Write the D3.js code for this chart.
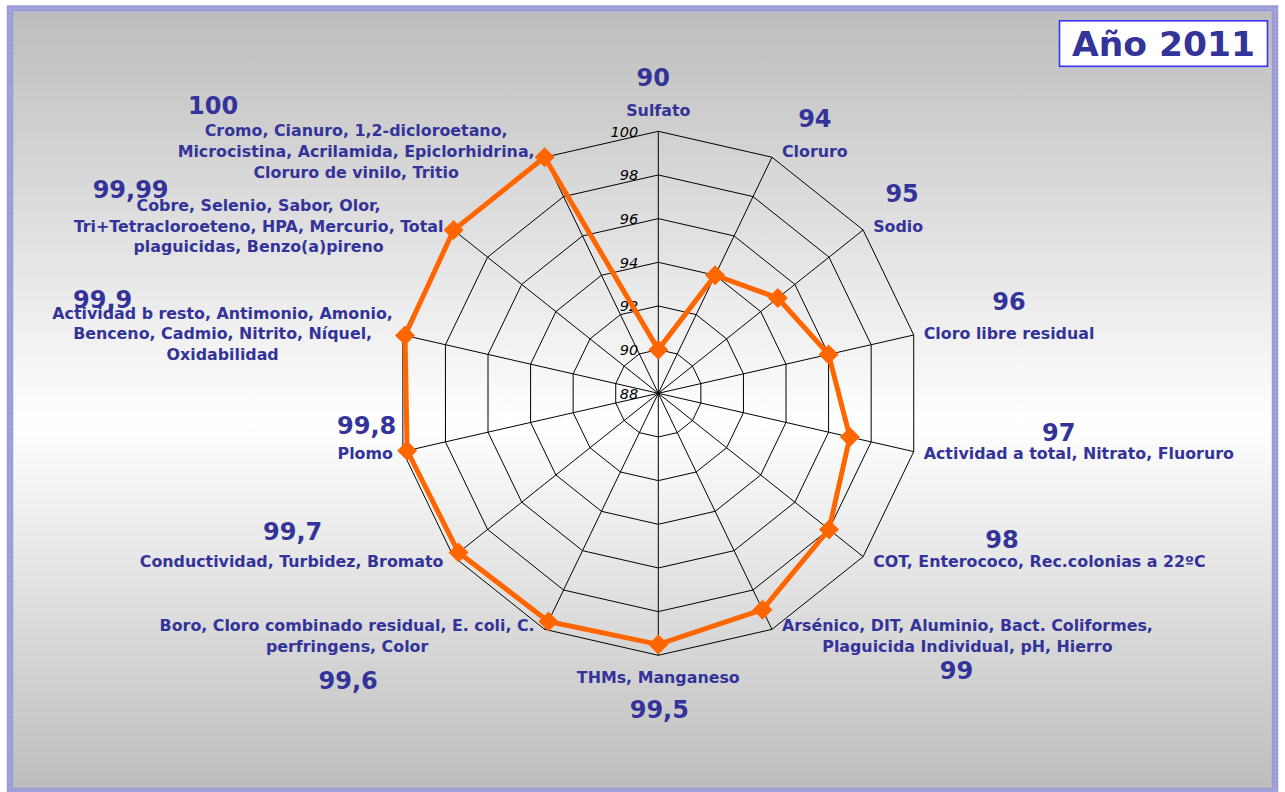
<!DOCTYPE html>
<html>
<head>
<meta charset="utf-8">
<style>
  body { margin: 0; background: #fff; }
  text { font-family: "DejaVu Sans", Verdana, sans-serif; }
</style>
</head>
<body>
<svg width="1285" height="792"></svg>
<script src="https://d3js.org/d3.v7.min.js"></script>
<script>
// one entry per radar axis, clockwise from the top; each entry = lines of the label
var categories = [
  ["Sulfato"],
  ["Cloruro"],
  ["Sodio"],
  ["Cloro libre residual"],
  ["Actividad a total, Nitrato, Fluoruro"],
  ["COT, Enterococo, Rec.colonias a 22ºC"],
  ["Arsénico, DIT, Aluminio, Bact. Coliformes,", "Plaguicida Individual, pH, Hierro"],
  ["THMs, Manganeso"],
  ["Boro, Cloro combinado residual, E. coli, C.", "perfringens, Color"],
  ["Conductividad, Turbidez, Bromato"],
  ["Plomo"],
  ["Actividad b resto, Antimonio, Amonio,", "Benceno, Cadmio, Nitrito, Níquel,", "Oxidabilidad"],
  ["Cobre, Selenio, Sabor, Olor,", "Tri+Tetracloroeteno, HPA, Mercurio, Total", "plaguicidas, Benzo(a)pireno"],
  ["Cromo, Cianuro, 1,2-dicloroetano,", "Microcistina, Acrilamida, Epiclorhidrina,", "Cloruro de vinilo, Tritio"]
];
var values = [90, 94, 95, 96, 97, 98, 99, 99.5, 99.6, 99.7, 99.8, 99.9, 99.99, 100];
var valueLabels = ["90", "94", "95", "96", "97", "98", "99", "99,5", "99,6", "99,7", "99,8", "99,9", "99,99", "100"];
var ticks = [88, 90, 92, 94, 96, 98, 100];
var title = "Año 2011";

// where the big number sits, relative to its label block (centre x, first baseline)
var valueNudge = [
  [-5, -30], [0, -30], [4, -29.3], [0, -29.7], [-20, -18], [-37.5, -19],
  [-11, 48], [1, 35.3], [1, 57.3], [1, -27.3], [1.5, -25],
  [-120, -11], [-128, -12.6], [-143, -22.4]
];

var cx = 658.3, cy = 393.3, R = 262;
var blue = "#333399", orange = "#ff6600";
var lineGap = 20.7;

var svg = d3.select("svg");

// background + frame
var defs = svg.append("defs");
var grad = defs.append("linearGradient")
    .attr("id", "bg").attr("x1", 0).attr("y1", 0).attr("x2", 0).attr("y2", 1);
grad.append("stop").attr("offset", "0%").attr("stop-color", "#bdbdbd");
grad.append("stop").attr("offset", "53%").attr("stop-color", "#ffffff");
grad.append("stop").attr("offset", "100%").attr("stop-color", "#bdbdbd");

svg.append("rect").attr("x", 13).attr("y", 12).attr("width", 1259).attr("height", 776)
    .attr("fill", "url(#bg)");
svg.append("rect").attr("x", 10).attr("y", 8.5).attr("width", 1265).attr("height", 782.5)
    .attr("fill", "none").attr("stroke", "#9d9dd6").attr("stroke-width", 6.5);
svg.append("rect").attr("x", 10).attr("y", 8.5).attr("width", 1265).attr("height", 782.5)
    .attr("fill", "none").attr("stroke", "#ffffff").attr("stroke-opacity", 0.45)
    .attr("stroke-width", 1).attr("stroke-dasharray", "1,3");

var r = d3.scaleLinear().domain([88, 100]).range([0, R]);
var n = categories.length;
var angle = function(i){ return i * 2 * Math.PI / n; };
function pt(i, rad){
  return [cx + rad * Math.sin(angle(i)), cy - rad * Math.cos(angle(i))];
}

var g = svg.append("g");

// rings
ticks.filter(function(t){ return t > 88; }).forEach(function(t){
  g.append("path")
    .attr("d", d3.lineRadial()
        .angle(function(d, i){ return angle(i); })
        .radius(r(t))
        .curve(d3.curveLinearClosed)(categories))
    .attr("transform", "translate(" + cx + "," + cy + ")")
    .attr("fill", "none").attr("stroke", "#000").attr("stroke-width", 1);
});

// spokes
g.selectAll(".spoke").data(categories).enter().append("line")
    .attr("x1", cx).attr("y1", cy)
    .attr("x2", function(d, i){ return pt(i, R)[0]; })
    .attr("y2", function(d, i){ return pt(i, R)[1]; })
    .attr("stroke", "#000").attr("stroke-width", 1);

// tick labels on the vertical axis
g.selectAll(".tick").data(ticks).enter().append("text")
    .attr("x", cx - 20)
    .attr("y", function(d){ return cy - r(d); })
    .attr("dy", "0.36em")
    .attr("text-anchor", "end")
    .attr("font-style", "italic")
    .attr("font-size", "14.5px")
    .attr("fill", "#000")
    .text(function(d){ return d; });

// series
var radial = d3.lineRadial()
    .angle(function(d, i){ return angle(i); })
    .radius(function(d){ return r(d); })
    .curve(d3.curveLinearClosed);

g.append("path")
    .attr("d", radial(values))
    .attr("transform", "translate(" + cx + "," + cy + ")")
    .attr("fill", "none").attr("stroke", orange).attr("stroke-width", 5)
    .attr("stroke-linejoin", "round");

var diamond = d3.symbol().type(d3.symbolSquare).size(200);
g.selectAll(".mark").data(values).enter().append("path")
    .attr("d", diamond)
    .attr("transform", function(d, i){
      var p = pt(i, r(d));
      return "translate(" + p[0] + "," + p[1] + ") rotate(45)";
    })
    .attr("fill", orange);

// category labels + value annotations
categories.forEach(function(lines, i){
  var v = pt(i, R);
  var s = Math.sin(angle(i)), c = Math.cos(angle(i));
  var grp = svg.append("g");
  var texts = lines.map(function(l){
    return grp.append("text")
      .attr("font-size", "15.85px").attr("font-weight", "bold")
      .attr("fill", blue).attr("text-anchor", "middle")
      .text(l);
  });
  var w = d3.max(texts, function(t){ return t.node().getComputedTextLength(); });
  var mid;
  if (Math.abs(s) < 0.01) mid = v[0];
  else if (s > 0) mid = v[0] + 10 + w / 2;
  else mid = v[0] - 10 - w / 2;

  var first;
  if (Math.abs(s) < 0.01 && c > 0) first = v[1] - 15.6 - (lines.length - 1) * lineGap;
  else if (Math.abs(s) < 0.01) first = v[1] + 27.4;
  else first = v[1] + 6 - 7 * c - (lines.length - 1) / 2 * lineGap;

  texts.forEach(function(t, k){
    t.attr("x", mid).attr("y", first + k * lineGap);
  });

  svg.append("text")
    .attr("x", mid + valueNudge[i][0])
    .attr("y", first + valueNudge[i][1])
    .attr("text-anchor", "middle")
    .attr("font-size", "24px").attr("font-weight", "bold")
    .attr("fill", blue)
    .text(valueLabels[i]);
});

// title box
svg.append("rect").attr("x", 1059.5).attr("y", 20.8).attr("width", 208).attr("height", 45.5)
    .attr("fill", "#fff").attr("stroke", "#3333ff").attr("stroke-width", 1.6);
svg.append("text")
    .attr("x", 1163.5).attr("y", 55.7)
    .attr("text-anchor", "middle")
    .attr("font-size", "34.5px").attr("font-weight", "bold")
    .attr("fill", blue)
    .text(title);
</script>
</body>
</html>
